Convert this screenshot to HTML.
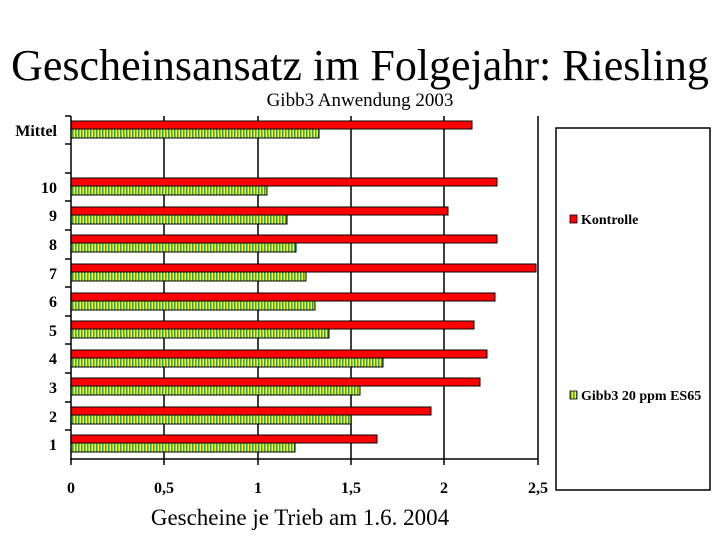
<!DOCTYPE html>
<html><head><meta charset="utf-8"><style>
body{margin:0;background:#fff}
svg{display:block;font-family:"Liberation Serif",serif}
</style></head><body>
<svg width="720" height="540" viewBox="0 0 720 540" xmlns="http://www.w3.org/2000/svg">
<defs>
<pattern id="st" width="3" height="10" patternUnits="userSpaceOnUse">
<rect width="3" height="10" fill="#ffff00"/><rect width="1.5" height="10" fill="#339966"/>
</pattern>
</defs>
<text x="360" y="80" font-size="44" text-anchor="middle">Gescheinsansatz im Folgejahr: Riesling</text>
<text x="360" y="106" font-size="19" text-anchor="middle">Gibb3 Anwendung 2003</text>
<g stroke="#000" stroke-width="1.5">
<line x1="164" y1="116" x2="164" y2="459"/>
<line x1="258" y1="116" x2="258" y2="459"/>
<line x1="351" y1="116" x2="351" y2="459"/>
<line x1="444" y1="116" x2="444" y2="459"/>
<line x1="538" y1="116" x2="538" y2="459"/>
</g>
<g stroke="#000" stroke-width="1">
<rect x="71" y="121" width="401" height="8" fill="#ff0000"/><rect x="71" y="129" width="248" height="9" fill="url(#st)"/>
<rect x="71" y="178" width="426" height="8" fill="#ff0000"/><rect x="71" y="186" width="196" height="9" fill="url(#st)"/>
<rect x="71" y="207" width="377" height="8" fill="#ff0000"/><rect x="71" y="215" width="216" height="9" fill="url(#st)"/>
<rect x="71" y="235" width="426" height="8" fill="#ff0000"/><rect x="71" y="243" width="225" height="9" fill="url(#st)"/>
<rect x="71" y="264" width="465" height="8" fill="#ff0000"/><rect x="71" y="272" width="235" height="9" fill="url(#st)"/>
<rect x="71" y="293" width="424" height="8" fill="#ff0000"/><rect x="71" y="301" width="244" height="9" fill="url(#st)"/>
<rect x="71" y="321" width="403" height="8" fill="#ff0000"/><rect x="71" y="329" width="258" height="9" fill="url(#st)"/>
<rect x="71" y="350" width="416" height="8" fill="#ff0000"/><rect x="71" y="358" width="312" height="9" fill="url(#st)"/>
<rect x="71" y="378" width="409" height="8" fill="#ff0000"/><rect x="71" y="386" width="289" height="9" fill="url(#st)"/>
<rect x="71" y="407" width="360" height="8" fill="#ff0000"/><rect x="71" y="415" width="280" height="9" fill="url(#st)"/>
<rect x="71" y="435" width="306" height="8" fill="#ff0000"/><rect x="71" y="443" width="224" height="9" fill="url(#st)"/>
</g>
<g stroke="#000" stroke-width="1.5">
<line x1="71" y1="116" x2="71" y2="460"/>
<line x1="70" y1="459" x2="538" y2="459"/>
<line x1="65" y1="116" x2="71" y2="116"/>
<line x1="65" y1="144" x2="71" y2="144"/>
<line x1="65" y1="173" x2="71" y2="173"/>
<line x1="65" y1="201" x2="71" y2="201"/>
<line x1="65" y1="230" x2="71" y2="230"/>
<line x1="65" y1="259" x2="71" y2="259"/>
<line x1="65" y1="287" x2="71" y2="287"/>
<line x1="65" y1="316" x2="71" y2="316"/>
<line x1="65" y1="344" x2="71" y2="344"/>
<line x1="65" y1="373" x2="71" y2="373"/>
<line x1="65" y1="402" x2="71" y2="402"/>
<line x1="65" y1="430" x2="71" y2="430"/>
<line x1="71" y1="459" x2="71" y2="465"/>
<line x1="164" y1="459" x2="164" y2="465"/>
<line x1="258" y1="459" x2="258" y2="465"/>
<line x1="351" y1="459" x2="351" y2="465"/>
<line x1="444" y1="459" x2="444" y2="465"/>
<line x1="538" y1="459" x2="538" y2="465"/>
</g>
<g font-size="16" font-weight="bold" text-anchor="end">
<text x="57" y="136">Mittel</text>
<text x="57" y="193">10</text>
<text x="57" y="221">9</text>
<text x="57" y="250">8</text>
<text x="57" y="279">7</text>
<text x="57" y="307">6</text>
<text x="57" y="336">5</text>
<text x="57" y="364">4</text>
<text x="57" y="393">3</text>
<text x="57" y="422">2</text>
<text x="57" y="450">1</text>
</g>
<g font-size="16" font-weight="bold" text-anchor="middle">
<text x="71" y="493">0</text>
<text x="164" y="493">0,5</text>
<text x="258" y="493">1</text>
<text x="351" y="493">1,5</text>
<text x="444" y="493">2</text>
<text x="538" y="493">2,5</text>
</g>
<text x="300" y="525" font-size="23" text-anchor="middle">Gescheine je Trieb am 1.6. 2004</text>
<rect x="556" y="128" width="154" height="362" fill="#fff" stroke="#000" stroke-width="1.5"/>
<rect x="570" y="215" width="7" height="8" fill="#ff0000" stroke="#000" stroke-width="0.8"/>
<text x="581" y="224" font-size="14" font-weight="bold">Kontrolle</text>
<rect x="570" y="391" width="7" height="8" fill="url(#st)" stroke="#000" stroke-width="0.8"/>
<text x="581" y="400" font-size="14" font-weight="bold">Gibb3 20 ppm ES65</text>
</svg>
</body></html>
